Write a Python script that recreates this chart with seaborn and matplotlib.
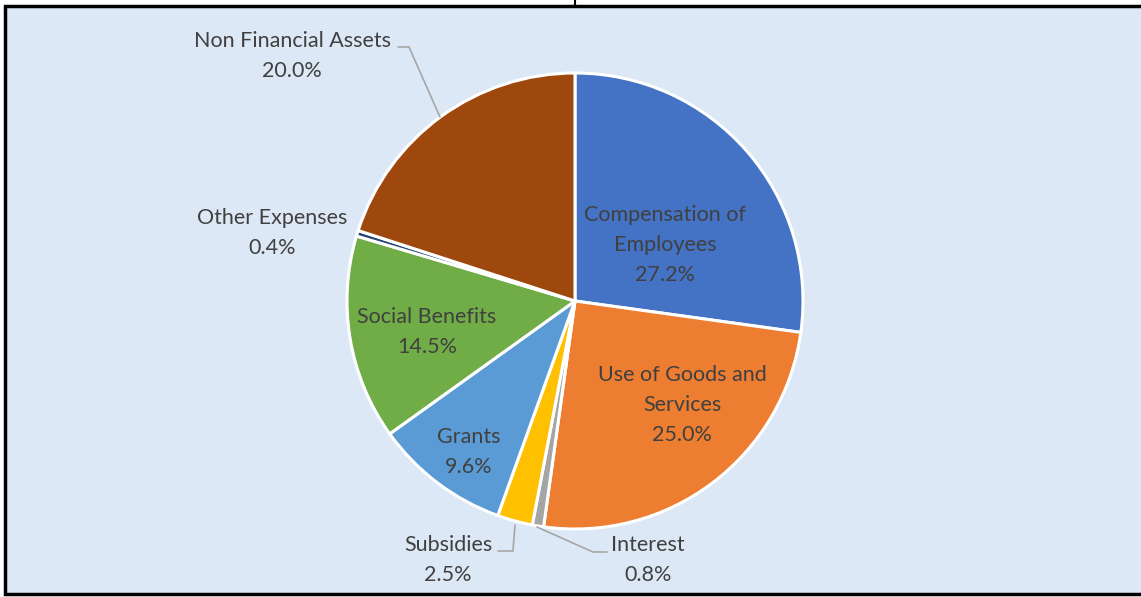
import matplotlib
matplotlib.use("Agg")
import matplotlib.pyplot as plt
import seaborn as sns
from matplotlib.patches import Rectangle
from matplotlib.lines import Line2D

# ---- data ----
categories = ["Compensation of\nEmployees", "Use of Goods and\nServices", "Interest",
              "Subsidies", "Grants", "Social Benefits", "Other Expenses",
              "Non Financial Assets"]
shares = [27.2, 25.0, 0.8, 2.5, 9.6, 14.5, 0.4, 20.0]
colors = ["#4472C4", "#ED7D31", "#A5A5A5", "#FFC000", "#5B9BD5", "#70AD47",
          "#264478", "#9E480E"]

sns.set_theme(style="white")
plt.rcParams["font.family"] = ["Lato", "DejaVu Sans"]

W, H, DPI = 1141, 597, 100
fig = plt.figure(figsize=(W / DPI, H / DPI), dpi=DPI, facecolor="white")

# background panel with black frame
fig.add_artist(Rectangle((5 / W, (H - 594) / H), 1.0, (594 - 6) / H,
                         transform=fig.transFigure, facecolor="#DCE8F5",
                         edgecolor="black", linewidth=2.5, zorder=0))
fig.add_artist(Line2D([575 / W, 575 / W], [1.0, (H - 6) / H],
                      transform=fig.transFigure, color="black", linewidth=1.5))

CX, CY, R = 575, 301, 228
ax = fig.add_axes([(CX - R) / W, (H - CY - R) / H, 2 * R / W, 2 * R / H])
ax.set_facecolor("none")
ax.pie(shares, colors=colors, startangle=90, counterclock=False, radius=1.0,
       wedgeprops=dict(edgecolor="white", linewidth=2.2))
ax.set_xlim(-1, 1)
ax.set_ylim(-1, 1)
ax.axis("off")


def p2d(px, py):
    return ((px - CX) / R, (CY - py) / R)


# label layout (pixel centres in the reference)
label_pos = [(665, 245), (682, 405), (648, 560), (448, 560), (469, 452),
             (427, 332), (272, 233), (292, 56)]
for cat, val, (px, py) in zip(categories, shares, label_pos):
    x, y = p2d(px, py)
    ax.text(x, y, f"{cat}\n{val:.1f}%", ha="center", va="center",
            fontsize=15.5, color="#404040", linespacing=1.62, clip_on=False)

leaders = [
    [(398, 47), (409, 47), (440, 117)],
    [(498, 551), (513, 551), (515, 525)],
    [(537, 527), (593, 552), (607, 552)],
]
for pts in leaders:
    xs, ys = zip(*[p2d(a, b) for a, b in pts])
    ax.plot(xs, ys, color="#A6A6A6", linewidth=1.2, clip_on=False)

fig.savefig("out.png", dpi=DPI, facecolor="white")
